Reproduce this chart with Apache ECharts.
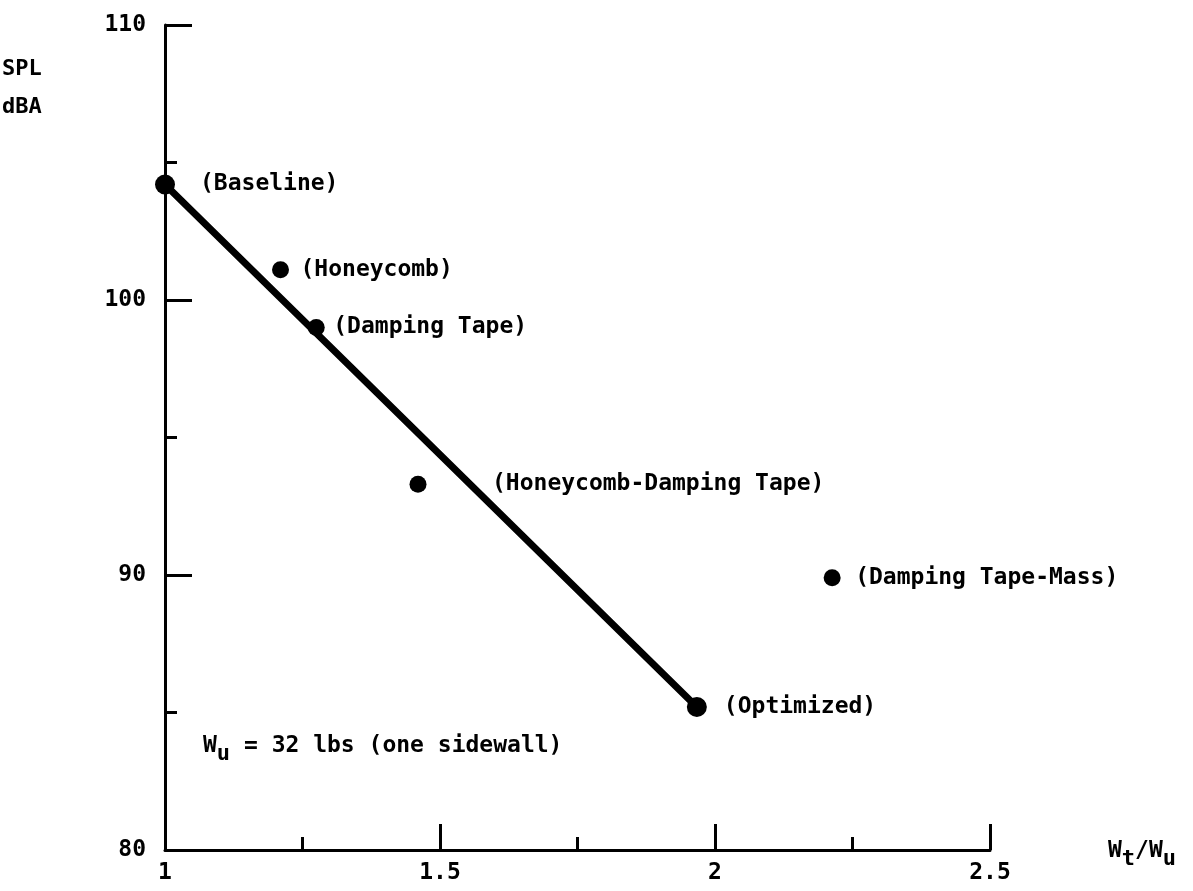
<!DOCTYPE html>
<html>
<head>
<meta charset="utf-8">
<script src="https://cdn.jsdelivr.net/npm/echarts@6/dist/echarts.min.js"></script>
<style>
  html, body { margin: 0; padding: 0; background: #fff; }
  #chart { width: 1193px; height: 891px; }
</style>
</head>
<body>
<div id="chart"></div>
<script>
// Treatment configurations: weight ratio Wt/Wu vs. sound pressure level (dBA)
const treatments = ['Baseline', 'Honeycomb', 'Damping Tape', 'Honeycomb-Damping Tape', 'Damping Tape-Mass', 'Optimized'];
const weightRatio = [1.0, 1.21, 1.275, 1.46, 2.213, 1.967];
const splDBA = [104.2, 101.1, 99.0, 93.3, 89.9, 85.2];

// Trend line drawn from the baseline to the optimized design
const trendRatio = [1.0, 1.967];
const trendSPL = [104.2, 85.2];

// Axis ticks
const xTicks = [1, 1.5, 2, 2.5];
const yTicks = [80, 90, 100, 110];

const FONT = '"DejaVu Sans Mono", monospace';

// Per-point presentation (marker size, label gap from the marker centre)
const markerSize = [20, 17, 17, 17, 17, 20];
const labelGap = [35, 20, 17, 74, 23, 27];

const chart = echarts.init(document.getElementById('chart'), null, { renderer: 'canvas' });

const scatterData = treatments.map((name, i) => ({
  name: name,
  value: [weightRatio[i], splDBA[i]],
  symbolSize: markerSize[i],
  label: { distance: labelGap[i] - markerSize[i] / 2 }
}));

const tickStyle = { color: '#000', width: 3 };

const option = {
  backgroundColor: '#ffffff',
  animation: false,
  grid: { left: 165, top: 25, width: 825, height: 825, containLabel: false },
  xAxis: {
    type: 'value',
    min: xTicks[0],
    max: xTicks[xTicks.length - 1],
    interval: 0.5,
    axisLine: { show: true, onZero: false, lineStyle: { color: '#000', width: 3 } },
    axisTick: { show: true, inside: true, length: 26, lineStyle: tickStyle },
    minorTick: { show: true, splitNumber: 2, length: 13, lineStyle: tickStyle },
    splitLine: { show: false },
    axisLabel: {
      margin: 12,
      color: '#000',
      fontFamily: FONT,
      fontWeight: 'bold',
      fontSize: 23,
      formatter: v => (xTicks.includes(v) ? String(v) : '')
    }
  },
  yAxis: {
    type: 'value',
    min: yTicks[0],
    max: yTicks[yTicks.length - 1],
    interval: 10,
    axisLine: { show: true, onZero: false, lineStyle: { color: '#000', width: 3 } },
    axisTick: { show: true, inside: true, length: 27, lineStyle: tickStyle },
    minorTick: { show: true, splitNumber: 2, length: 12, lineStyle: tickStyle },
    splitLine: { show: false },
    axisLabel: {
      margin: 19,
      color: '#000',
      fontFamily: FONT,
      fontWeight: 'bold',
      fontSize: 23,
      formatter: v => (yTicks.includes(v) ? String(v) : '')
    }
  },
  series: [
    {
      type: 'line',
      data: trendRatio.map((x, i) => [x, trendSPL[i]]),
      symbol: 'none',
      lineStyle: { color: '#000', width: 7, cap: 'round' },
      z: 2
    },
    {
      type: 'scatter',
      data: scatterData,
      itemStyle: { color: '#000', opacity: 1 },
      label: {
        show: true,
        position: 'right',
        color: '#000',
        fontFamily: FONT,
        fontWeight: 'bold',
        fontSize: 23,
        formatter: p => '(' + p.name + ')'
      },
      emphasis: { disabled: true },
      z: 3
    }
  ],
  graphic: [
    {
      type: 'text',
      left: 2, top: 58,
      style: { text: 'SPL', font: 'bold 22px ' + FONT, fill: '#000' }
    },
    {
      type: 'text',
      left: 2, top: 96,
      style: { text: 'dBA', font: 'bold 22px ' + FONT, fill: '#000' }
    },
    {
      type: 'text',
      left: 1108, top: 840,
      style: {
        text: '{b|W}{s|t}{b|/W}{s|u}',
        rich: {
          b: { fontFamily: FONT, fontWeight: 'bold', fontSize: 23, fill: '#000' },
          s: { fontFamily: FONT, fontWeight: 'bold', fontSize: 22, fill: '#000', padding: [16, 0, 0, 0] }
        }
      }
    },
    {
      type: 'text',
      left: 203, top: 735,
      style: {
        text: '{b|W}{s|u}{b| = 32 lbs (one sidewall)}',
        rich: {
          b: { fontFamily: FONT, fontWeight: 'bold', fontSize: 23, fill: '#000' },
          s: { fontFamily: FONT, fontWeight: 'bold', fontSize: 22, fill: '#000', padding: [16, 0, 0, 0] }
        }
      }
    }
  ]
};

chart.setOption(option);
</script>
</body>
</html>
